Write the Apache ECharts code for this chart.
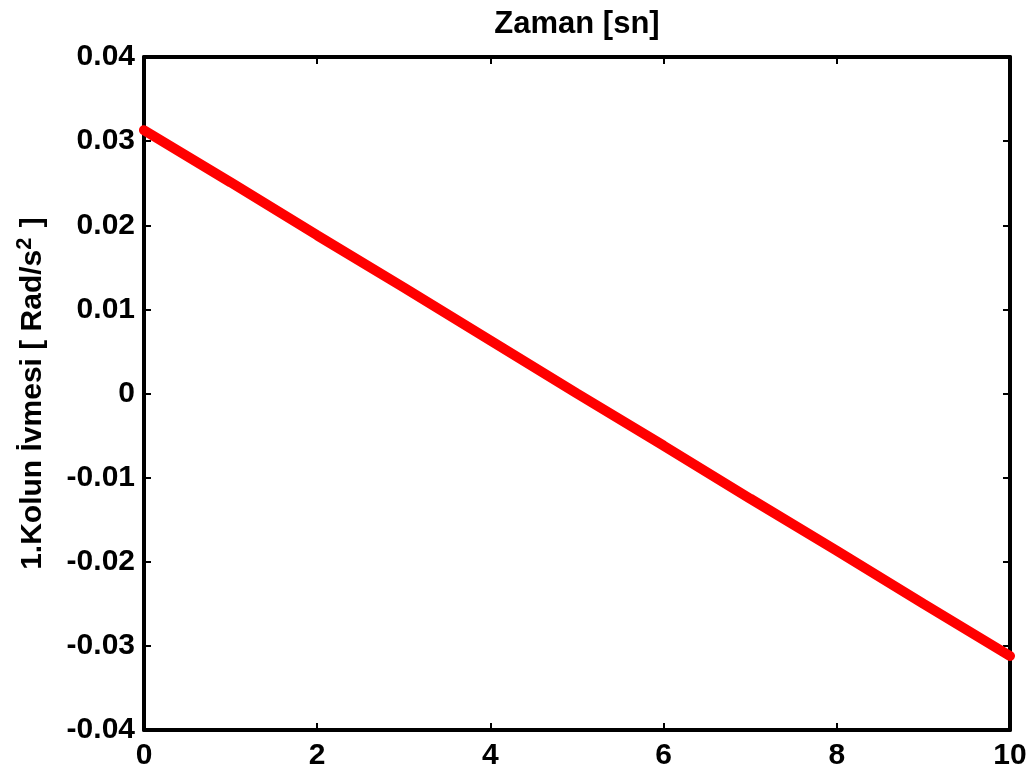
<!DOCTYPE html>
<html>
<head>
<meta charset="utf-8">
<script src="https://cdn.jsdelivr.net/npm/echarts@6/dist/echarts.min.js"></script>
<style>html,body{margin:0;padding:0;background:#fff}#c{width:1033px;height:776px}</style>
</head>
<body>
<div id="c"></div>
<script>
const timeValues = [0, 1, 2, 3, 4, 5, 6, 7, 8, 9, 10];
const accelValues = [0.0313, 0.0251, 0.0188, 0.0126, 0.0063, 0.0000, -0.0062, -0.0125, -0.0187, -0.0250, -0.0312];
const xTitle = 'Zaman [sn]';
const yTitleMain = '1.Kolun İvmesi [ Rad/s';
const yTitleSup = '2';
const yTitleEnd = ' ]';

const font = '"Liberation Sans", Arial, sans-serif';
const chart = echarts.init(document.getElementById('c'), null, {renderer: 'canvas'});
const axisLine = {show: true, onZero: false, lineStyle: {color: '#000', width: 4}};
const axisTick = {show: true, inside: true, length: 7, lineStyle: {color: '#000', width: 2}};
const labelStyle = {color: '#000', fontFamily: font, fontWeight: 'bold', fontSize: 30};

chart.setOption({
  animation: false,
  backgroundColor: '#fff',
  title: {
    text: xTitle, left: 572, top: 4, textAlign: 'center',
    textStyle: {color: '#000', fontFamily: font, fontWeight: 'bold', fontSize: 31}
  },
  grid: {left: 144, right: 23, top: 57, bottom: 46, containLabel: false},
  xAxis: [
    {type: 'value', min: 0, max: 10, interval: 2, position: 'bottom',
     axisLine, axisTick, splitLine: {show: false},
     axisLabel: Object.assign({margin: 11}, labelStyle)},
    {type: 'value', min: 0, max: 10, interval: 2, position: 'top',
     axisLine, axisTick, splitLine: {show: false}, axisLabel: {show: false}}
  ],
  yAxis: [
    {type: 'value', min: -0.04, max: 0.04, interval: 0.01, position: 'left',
     axisLine, axisTick, splitLine: {show: false},
     axisLabel: Object.assign({margin: 9, formatter: v => {
       const r = Math.round(v * 100) / 100; return r === 0 ? '0' : r.toFixed(2);
     }}, labelStyle),
     name: '{m|' + yTitleMain + '}{s|' + yTitleSup + '}{m|' + yTitleEnd + '}',
     nameLocation: 'middle', nameRotate: 90, nameGap: 92,
     nameTextStyle: {
       color: '#000', fontFamily: font, fontWeight: 'bold', fontSize: 30,
       rich: {
         m: {color: '#000', fontFamily: font, fontWeight: 'bold', fontSize: 30},
         s: {color: '#000', fontFamily: font, fontWeight: 'bold', fontSize: 22, verticalAlign: 'top', padding: [0, 2, 16, 0]}
       }
     }},
    {type: 'value', min: -0.04, max: 0.04, interval: 0.01, position: 'right',
     axisLine, axisTick, splitLine: {show: false}, axisLabel: {show: false}}
  ],
  series: [{
    type: 'line',
    data: timeValues.map((t, i) => [t, accelValues[i]]),
    showSymbol: false,
    lineStyle: {color: '#ff0000', width: 10, cap: 'round'},
    itemStyle: {color: '#ff0000'}
  }]
});
</script>
</body>
</html>
